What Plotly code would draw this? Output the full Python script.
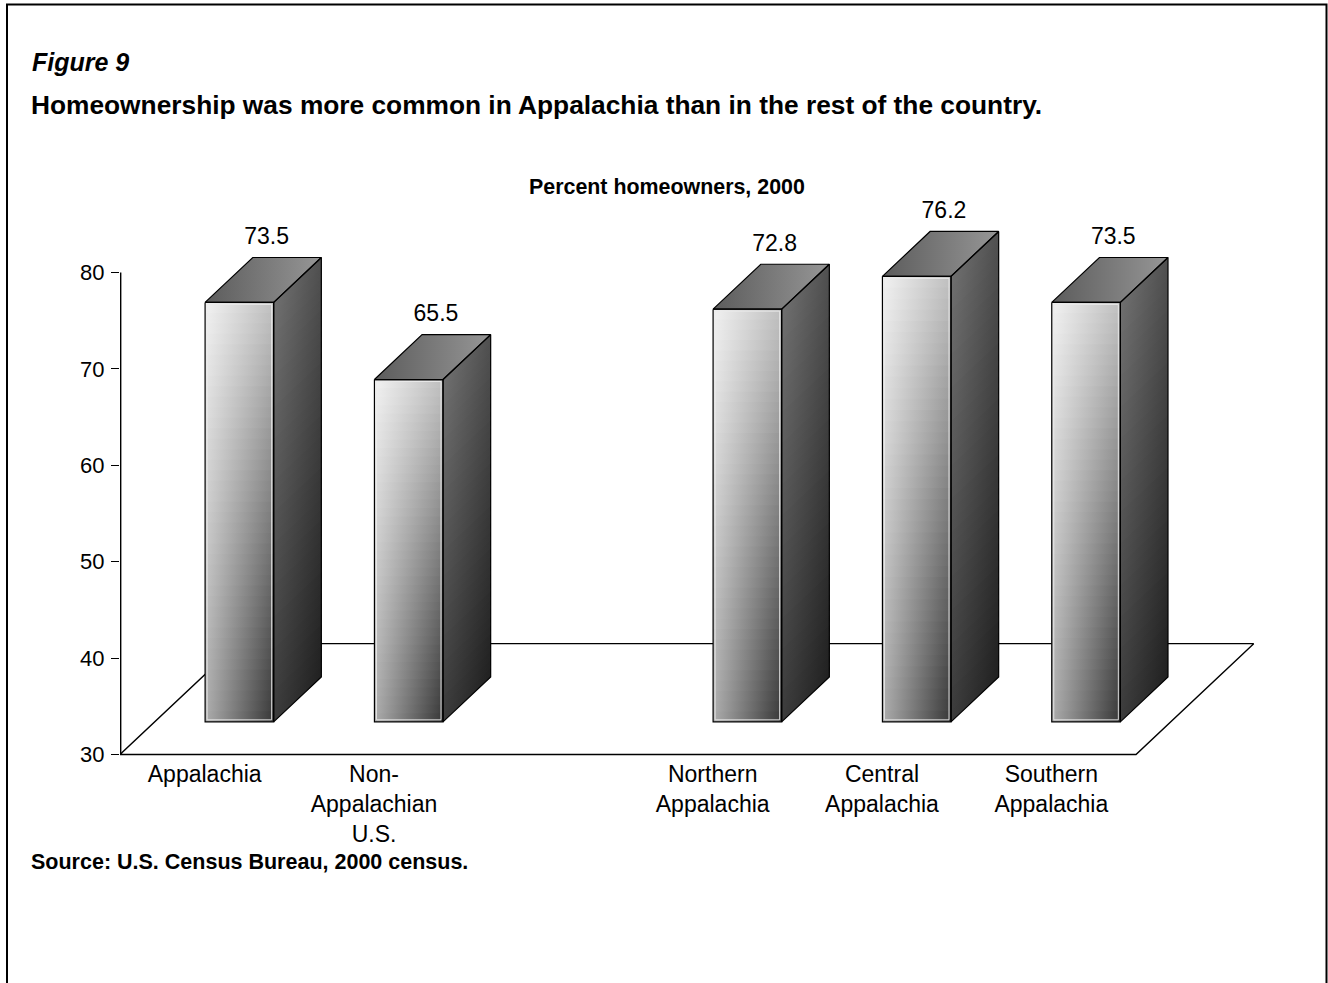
import plotly.graph_objects as go

# ---------------- data ----------------
categories = ["Appalachia", "Non-Appalachian U.S.", "Northern Appalachia",
              "Central Appalachia", "Southern Appalachia"]
tick_labels = ["Appalachia", "Non-<br>Appalachian<br>U.S.", "Northern<br>Appalachia",
               "Central<br>Appalachia", "Southern<br>Appalachia"]
slots = [0, 1, 3, 4, 5]          # slot 2 is an empty gap
values = [73.5, 65.5, 72.8, 76.2, 73.5]
value_labels = ["73.5", "65.5", "72.8", "76.2", "73.5"]
y_ticks = [30, 40, 50, 60, 70, 80]
Y_BASE = 30

# ---------------- geometry / style ----------------
FDX, FDY = 0.695, 11.5       # floor depth vector (data units)
F0, F1 = 0.295, 0.70         # bar front / back depth fractions
BW = 0.405                   # bar width
NSTRIP = 40
LABEL_LIFT = 0.8             # value label lift above bar top (data units)
FONT = "Liberation Sans, Arial, sans-serif"

# page geometry (px)
W, H = 1328, 983
XR = [-0.5, 6.25]
YR = [29.85, 90]
L, R, T = 120, 65, 176
B = int(round(H - (755 + (30 - YR[0]) * 9.646)))
PW, PH = W - L - R, H - T - B


def px_x(X):
    return (X - L) / PW


def px_y(Y):
    return (H - B - Y) / PH


def gray(v):
    v = int(round(v))
    return f"rgb({v},{v},{v})"


def lerp(a, b, t):
    return a + (b - a) * t


# colour corners (gray levels)
FRONT = dict(tl=242, tr=192, bl=172, br=55)
SIDE = dict(tl=112, tr=80, bl=60, br=32)
TOP = (92, 150)

fig = go.Figure()

# floor
fx = [-0.5, 5.5, 5.5 + FDX, -0.5 + FDX, -0.5]
fy = [Y_BASE, Y_BASE, Y_BASE + FDY, Y_BASE + FDY, Y_BASE]
fig.add_trace(go.Scatter(x=fx, y=fy, mode="lines", fill="toself", fillcolor="white",
                         line=dict(color="black", width=1.4), hoverinfo="skip",
                         showlegend=False))

# y-axis line (30 to 80) at the plot's left edge (half of the stroke is clipped)
fig.add_trace(go.Scatter(x=[XR[0], XR[0]], y=[y_ticks[0], y_ticks[-1]], mode="lines",
                         line=dict(color="black", width=2.8), hoverinfo="skip",
                         showlegend=False))


def poly(xs, ys, **kw):
    fig.add_trace(go.Scatter(x=xs + [xs[0]], y=ys + [ys[0]], mode="lines",
                             hoverinfo="skip", showlegend=False, **kw))


for c, v in zip(slots, values):
    xl = c - BW / 2
    xr = c + BW / 2
    x0f, y0f = F0 * FDX, F0 * FDY
    x1f, y1f = F1 * FDX, F1 * FDY
    yb = Y_BASE

    # top face
    tx = [xl + x0f, xr + x0f, xr + x1f, xl + x1f]
    ty = [v + y0f, v + y0f, v + y1f, v + y1f]
    poly(tx, ty, fill="toself", line=dict(width=0, color="rgba(0,0,0,0)"),
         fillgradient=dict(type="horizontal",
                           colorscale=[[0, gray(TOP[0])], [1, gray(TOP[1])]]))

    # side face (strips)
    for k in range(NSTRIP):
        t0 = k / NSTRIP
        t1 = min(1.0, (k + 1.6) / NSTRIP)
        tm = (k + 0.5) / NSTRIP
        ya0 = v - (v - yb) * t0
        ya1 = v - (v - yb) * t1
        sx = [xr + x0f, xr + x1f, xr + x1f, xr + x0f]
        sy = [ya0 + y0f, ya0 + y1f, ya1 + y1f, ya1 + y0f]
        cl = lerp(SIDE["tl"], SIDE["bl"], tm)
        cr = lerp(SIDE["tr"], SIDE["br"], tm)
        poly(sx, sy, fill="toself", line=dict(width=0, color="rgba(0,0,0,0)"),
             fillgradient=dict(type="horizontal",
                               colorscale=[[0, gray(cl)], [1, gray(cr)]]))

    # front face (strips)
    for k in range(NSTRIP):
        t0 = k / NSTRIP
        t1 = min(1.0, (k + 1.6) / NSTRIP)
        tm = (k + 0.5) / NSTRIP
        ya0 = v - (v - yb) * t0 + y0f
        ya1 = v - (v - yb) * t1 + y0f
        sx = [xl + x0f, xr + x0f, xr + x0f, xl + x0f]
        sy = [ya0, ya0, ya1, ya1]
        cl = lerp(FRONT["tl"], FRONT["bl"], tm)
        cr = lerp(FRONT["tr"], FRONT["br"], tm)
        poly(sx, sy, fill="toself", line=dict(width=0, color="rgba(0,0,0,0)"),
             fillgradient=dict(type="horizontal",
                               colorscale=[[0, gray(cl)], [0.9, gray(lerp(cl, cr, 0.9))],
                                           [1, gray(cr)]]))

    # inner light border on front face
    ix, iy = 2.0 / 169.3, 2.0 / 9.65
    poly([xl + x0f + ix, xr + x0f - ix, xr + x0f - ix, xl + x0f + ix],
         [v + y0f - iy, v + y0f - iy, yb + y0f + iy, yb + y0f + iy],
         line=dict(color="rgba(235,235,235,0.9)", width=1))

    # outlines
    poly([xl + x0f, xr + x0f, xr + x0f, xl + x0f],
         [v + y0f, v + y0f, yb + y0f, yb + y0f], line=dict(color="black", width=1.2))
    poly(tx, ty, line=dict(color="black", width=1.2))
    poly([xr + x0f, xr + x1f, xr + x1f, xr + x0f],
         [yb + y0f, yb + y1f, v + y1f, v + y0f], line=dict(color="black", width=1.2))

# value labels
fig.add_trace(go.Scatter(
    x=[c + (F0 + F1) / 2 * FDX + 0.02 for c in slots],
    y=[v + F1 * FDY + LABEL_LIFT for v in values],
    mode="text", text=value_labels, textposition="top center",
    textfont=dict(family=FONT, size=23, color="black"),
    hoverinfo="skip", showlegend=False))

annotations = [
    dict(text="<b><i>Figure 9</i></b>", x=px_x(30), y=px_y(62), xanchor="left",
         yanchor="middle", font=dict(size=25)),
    dict(text="<b>Homeownership was more common in Appalachia than in the rest of the country.</b>",
         x=px_x(29), y=px_y(105), xanchor="left", yanchor="middle", font=dict(size=26.3)),
    dict(text="<b>Percent homeowners, 2000</b>", x=px_x(667), y=px_y(187),
         xanchor="center", yanchor="middle", font=dict(size=21.4)),
    dict(text="<b>Source: U.S. Census Bureau, 2000 census.</b>", x=px_x(29), y=px_y(862),
         xanchor="left", yanchor="middle", font=dict(size=21.5)),
]
for a in annotations:
    a.update(xref="paper", yref="paper", showarrow=False)
    a["font"].update(family=FONT, color="black")

fig.update_layout(
    width=W, height=H,
    margin=dict(l=L, r=R, t=T, b=B, pad=0),
    paper_bgcolor="white", plot_bgcolor="white",
    showlegend=False,
    annotations=annotations,
    shapes=[dict(type="rect", xref="paper", yref="paper",
                 x0=px_x(7), x1=px_x(1326.5), y0=px_y(1010), y1=px_y(4.5),
                 line=dict(color="black", width=2), layer="above")],
    xaxis=dict(range=XR, showgrid=False, zeroline=False, showline=False,
               tickmode="array", tickvals=slots, ticktext=tick_labels, ticks="",
               tickfont=dict(family=FONT, size=23, color="black"),
               ticklabelstandoff=2, fixedrange=True),
    yaxis=dict(range=YR, showgrid=False, zeroline=False, showline=False,
               tickmode="array", tickvals=y_ticks, ticks="outside", ticklen=8,
               tickwidth=1.2, tickcolor="black",
               tickfont=dict(family=FONT, size=22, color="black"),
               ticklabelstandoff=2, fixedrange=True),
)

fig.write_html("out.html", config={"displayModeBar": False},
               post_script="document.body.style.margin='0';")
